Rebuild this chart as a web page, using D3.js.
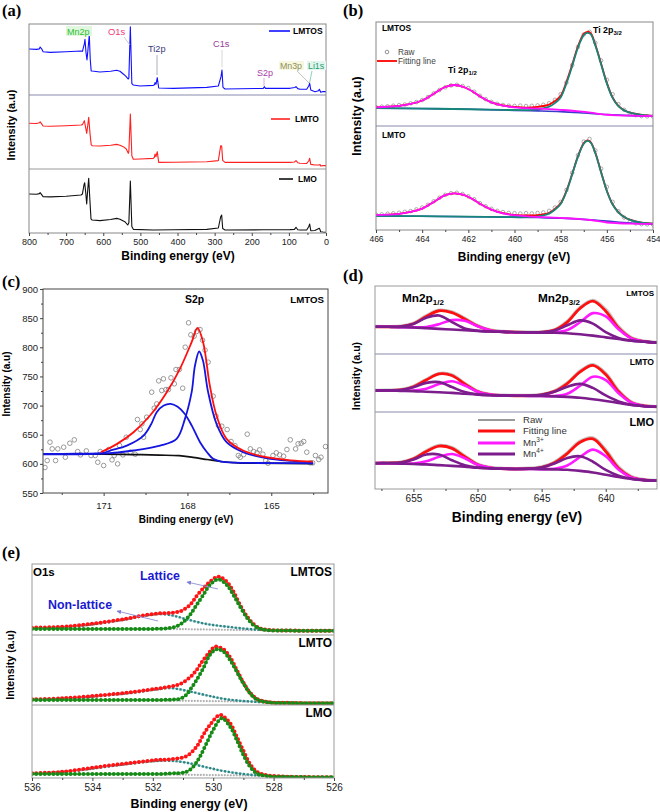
<!DOCTYPE html>
<html><head><meta charset="utf-8">
<script src="https://cdn.jsdelivr.net/npm/d3@7"></script>
<style>body{margin:0;background:#fff}</style>
</head><body><script>
// ================= DATA =================
// (a) survey spectra  [binding energy (eV), intensity (a.u.)]
const surveyTicks=[800,700,600,500,400,300,200,100,0];
const surveyMinor=[750,650,550,450,350,250,150,50];
const surveyLMTOS=[[800,64.8],[780,64.3],[772,65],[770,67.6],[766,65],[762,61],[743,60.1],[700,61],[660,62],[656,61.5],[651,72],[649.2,78.4],[646.5,60],[643.8,49.3],[641,65],[637.6,84.5],[635,50],[632.5,34],[630,33.8],[609,32.4],[580,33.5],[564,34.8],[555,33.5],[546,29.6],[540,27],[532.5,22.5],[531,24],[527,96],[523,16],[519,14.1],[501,12.7],[465,13.6],[462,14.5],[460.6,17.4],[458,15],[454.5,24.4],[450.7,9.9],[411,9.4],[321,10.8],[290,12.7],[282.8,25.8],[280.2,35.2],[277.5,10.8],[272,8.5],[169,9.4],[166,11.7],[163,9.4],[97,9.4],[84,10.5],[80.8,11.7],[76,9],[70,8],[52,8],[46.6,12.7],[44,16.4],[41,7],[29.6,4.7],[20,6],[18,8],[16,6],[14.3,3.8],[8,5],[0,4.7]];
const surveyLMTO=[[800,61.8],[780,61.5],[772,62.5],[770,63.9],[766,61],[762,58.1],[743,57.8],[700,58.5],[660,59.5],[656,60],[653,63],[651,65.3],[647,55],[644.6,48.2],[641.5,60],[639.2,69.8],[635.7,48.2],[632.5,33],[630,31.5],[609,31.1],[580,32],[564,33.3],[555,32.2],[546,30.2],[538,27],[532.5,21.2],[531,24],[527,74.3],[523,18],[519,13.1],[501,13.5],[465,14.4],[462,16],[460.6,20.3],[458,16.7],[454.5,23.4],[450.7,9],[411,9.2],[321,9.8],[290,11.3],[283.6,31.5],[281,31],[278.3,11.7],[272,9],[169,9],[97,9],[85,9.5],[80.8,11.3],[76,8.5],[70,7.7],[52,7.5],[46.6,10.8],[44,14.4],[41,6.3],[30,5.5],[18,5.4],[16,6],[14.3,4.1],[8,4.5],[0,4.5]];
const surveyLMO=[[800,60.9],[780,60.5],[772,61.5],[770,63],[766,60],[762,56.8],[743,56.5],[700,57.5],[660,59.4],[656,61],[652,75],[650,78.6],[647,62],[644.6,45.3],[641.5,70],[639.2,85.5],[636,51.6],[633,22],[630,20.3],[609,19.3],[580,21],[564,22.9],[555,21.5],[542,17.7],[534,12.5],[531,16],[527,81.3],[523,10],[519,5.7],[465,4.7],[411,5],[321,5.7],[290,7.8],[283.6,25.5],[281,28.1],[278.3,7],[272,4.7],[169,5],[97,5.2],[85,5.7],[80.8,8.9],[76,5],[70,4.7],[52,4.7],[46.6,9.9],[44,14.1],[41,3.6],[30,4],[18,7.3],[16,5],[14.3,2],[8,1.5],[0,1]];

// (b) Ti 2p
const tiTicks=[466,464,462,460,458,456,454];
const tiMinor=[465,463,461,459,457,455];
const tiRawE=[466,465.75,465.5,465.25,465,464.75,464.5,464.25,464,463.75,463.5,463.25,463,462.75,462.5,462.25,462,461.75,461.5,461.25,461,460.75,460.5,460.25,460,459.75,459.5,459.25,459,458.75,458.5,458.25,458,457.75,457.5,457.25,457,456.75,456.5,456.25,456,455.75,455.5,455.25,455,454.75,454.5,454.25,454];
const tiRawLMTOS=[18.2,18.6,18.9,19.5,20.1,20.6,21.8,23,25,27.8,31.4,34.6,37.2,39,39.6,38.4,36.5,33,29,25.8,23.2,21.3,20.2,19.5,19.3,19.6,19.2,19.4,19.8,20.4,21.9,25.2,30.6,41.8,58.5,76,88,90.5,80,63,44.5,30.5,21,15.6,12,10.4,9.6,9.3,9.2];
const tiRawLMTO=[14.8,15,15.6,16,16.6,17.5,18.2,19.8,21.6,24.2,27.6,31,33.8,35.4,35.8,34.6,32.4,29.6,25.8,22.8,20.4,18.4,17.2,16.4,16.2,15.8,16.2,15.9,16.4,16.8,18.4,21.6,27,38.5,55,72,85,87.5,76.5,59,41.5,27,18,12,8.5,6.4,5.6,5.4,5.2];
const tiBgLMTOS=[[466,17],[463,16.5],[460,15],[459,14.5],[458,13.8],[457,12.5],[456,11],[455,10],[454,9.6]];
const tiP12LMTOS=[[466,18],[465.5,18.5],[465,19.4],[464.5,21.2],[464,24.5],[463.5,31],[463,37.5],[462.6,39.4],[462.2,37.5],[461.8,33],[461.4,27.2],[461,22.8],[460.5,19.6],[460,18],[459.3,17],[458.5,16.2],[457.9,15.4],[457.2,14],[456.7,12.8],[456,10.8],[455.5,10.2],[455,9.9],[454,9.6]];
const tiP32LMTOS=[[466,17.2],[464,16.8],[462,16.1],[460.5,15.5],[459.5,15.3],[459,16],[458.5,18.6],[458.25,22],[458,27.5],[457.75,41],[457.5,57.7],[457.25,75.5],[457,87.4],[456.85,89.6],[456.7,88.4],[456.5,77.5],[456.25,59.5],[456,41],[455.75,27],[455.5,19],[455.25,15],[455,12.8],[454.5,10.8],[454,9.8]];
const tiFitLMTOS=[[466,18],[465,19.4],[464.5,21.2],[464,24.5],[463.5,31],[463,37.5],[462.6,39.4],[462.2,37.5],[461.8,33],[461.4,27.2],[461,22.8],[460.5,19.8],[460,18.3],[459.5,17.6],[459,18.4],[458.5,20.6],[458.25,24],[458,29],[457.75,42.5],[457.5,59],[457.25,76.7],[457,88.6],[456.85,90.6],[456.7,89.3],[456.5,78.4],[456.25,60.2],[456,41.6],[455.75,27.4],[455.5,19.4],[455.25,15.2],[455,12.9],[454.5,10.8],[454,9.8]];
const tiBgLMTO=[[466,13.5],[463,13],[460,12.4],[459,12],[458,11.4],[457,10.2],[456,8.5],[455,6.8],[454,5.8]];
const tiP12LMTO=[[466,14.4],[465.5,14.8],[465,15.6],[464.5,17.4],[464,20.5],[463.5,27],[463,33.5],[462.6,35.3],[462.2,33.8],[461.8,29.5],[461.4,24],[461,19.6],[460.5,16],[460,14.2],[459.3,12.8],[458.5,12.2],[457.9,11.5],[457.2,10.6],[456.7,9.6],[456,7.2],[455.5,6.5],[455,6.1],[454,5.8]];
const tiP32LMTO=[[466,13.6],[464,13.3],[462,12.9],[460.5,12.4],[459.5,12.3],[459,13],[458.5,15.8],[458.25,19.5],[458,25],[457.75,37],[457.5,53.5],[457.25,70.5],[457,83],[456.85,85.6],[456.7,84],[456.5,74],[456.25,55.5],[456,37.5],[455.75,24.5],[455.5,17],[455.25,12.5],[455,9.8],[454.5,7],[454,6]];
const tiFitLMTO=[[466,14.4],[465,15.6],[464.5,17.4],[464,20.5],[463.5,27],[463,33.5],[462.6,35.3],[462.2,33.8],[461.8,29.5],[461.4,24],[461,19.6],[460.5,16.2],[460,14.6],[459.5,14],[459,14.3],[458.5,16.6],[458.25,20.2],[458,25.6],[457.75,37.6],[457.5,54],[457.25,71],[457,83.5],[456.85,86.2],[456.7,84.5],[456.5,74.4],[456.25,55.8],[456,37.7],[455.75,24.7],[455.5,17.2],[455.25,12.6],[455,9.9],[454.5,7],[454,6]];

// (c) S 2p
const s2pXTicks=[171,168,165];
const s2pXMinor=[172.5,169.5,166.5,163.5];
const s2pYTicks=[550,600,650,700,750,800,850,900];
const s2pYMinor=[575,625,675,725,775,825,875];
const s2pRaw=[[173.10,593.7],[173.02,605.7],[172.92,637.2],[172.84,625.7],[172.72,605.7],[172.64,625.7],[172.43,628.6],[172.37,611.4],[172.21,635.4],[172.05,641.2],[171.93,621.1],[171.83,615.4],[171.62,622.3],[171.45,614.3],[171.30,614.3],[171.21,602.8],[171.12,621.1],[171.00,597.1],[170.82,624.6],[170.70,606.8],[170.62,614.3],[170.50,600.0],[170.43,631.4],[170.31,615.4],[170.19,645.7],[170.05,620.0],[169.87,616.6],[169.79,676.1],[169.69,658.9],[169.63,668.6],[169.57,645.7],[169.46,680.1],[169.28,723.0],[169.19,695.5],[169.10,702.9],[169.03,742.4],[168.92,725.8],[168.86,745.9],[168.77,727.5],[168.68,727.5],[168.59,747.6],[168.47,737.3],[168.41,761.9],[168.29,761.9],[168.17,729.8],[168.08,800.2],[167.96,842.0],[167.88,821.4],[167.76,819.1],[167.67,827.1],[167.55,830.5],[167.46,812.2],[167.37,795.1],[167.26,774.5],[167.08,716.1],[166.98,681.8],[166.89,665.8],[166.77,664.6],[166.58,658.9],[166.44,638.3],[166.30,631.4],[166.18,614.3],[166.11,611.4],[165.99,615.9],[165.86,650.9],[165.75,625.7],[165.63,621.1],[165.51,618.9],[165.42,624.0],[165.30,616.6],[165.20,605.7],[165.12,601.1],[164.94,614.3],[164.82,618.9],[164.70,615.4],[164.56,613.1],[164.44,624.6],[164.32,641.2],[164.13,625.7],[164.04,634.4],[163.93,635.4],[163.84,638.3],[163.73,620.0],[163.61,601.7],[163.52,601.7],[163.42,614.3],[163.30,607.4],[163.22,611.4],[163.06,629.7]];
const s2pBg=[[173.2,616.5],[171,616.5],[170,616],[169,615],[168.3,614],[167.8,611],[167.3,607.5],[166.8,604],[166.2,601.8],[165.5,601],[163.5,600.5]];
const s2pComp1=[[173.2,617],[172,617.5],[171,619],[170.76,622.9],[170.17,631.4],[169.57,648.6],[169.3,668],[169.1,688.6],[168.85,700],[168.6,702.9],[168.35,698],[168.1,686],[167.85,666],[167.55,637.2],[167.3,620],[167.08,608.6],[166.8,604],[166.3,602],[165.5,601.5],[163.5,601]];
const s2pComp2=[[173.2,616.5],[171,617.5],[169.93,622.9],[168.98,631.4],[168.39,642.9],[168.09,677.2],[167.85,723],[167.73,768.7],[167.58,792.8],[167.45,778],[167.26,723],[166.96,668.6],[166.6,637.2],[166.01,620],[165.18,609.7],[164.3,605],[163.52,602.8]];
const s2pFit=[[171.1,620],[170.52,634.3],[169.93,654.3],[169.34,682.9],[168.74,723],[168.27,763],[167.85,808.8],[167.64,833.4],[167.44,808.8],[167.2,734.4],[166.96,682.9],[166.6,642.9],[166.01,622.9],[165.18,611.4],[164.3,606],[163.52,604]];

// (d) Mn 2p
const mnTicks=[655,650,645,640];
const mnMinor=[657.5,652.5,647.5,642.5,637.5];
const mnE=[658,657,656,655,654,653,652,651,650,649,648,647,646,645,644,643,642,641,640,639,638,637,636];
const mnBgLMTOS=[40,40,39.5,39,38,37,36,35,34,33,32.5,32,31.8,31.5,31.2,30.5,29,27,24.5,22,19.5,18,16.6];
const mnMn4LMTOS=[40,40,40.3,44.2,53.4,56.7,47,37.7,34.3,33,32.5,32,31.8,32,34.5,42.2,49.4,44.7,32.2,23.7,19.7,18,16.6];
const mnMn3LMTOS=[40,40,39.5,39.2,39.7,43.9,49.8,48.8,40.9,34.7,32.7,32,31.8,31.5,31.8,35.2,46.7,60.1,55.3,36.4,22.9,18.4,16.6];
const mnFitLMTOS=[40,40,40.3,44.4,55.1,63.6,60.8,51.5,41.2,34.7,32.7,32,31.8,32,35.1,46.9,67.1,77.8,63,38.1,23.1,18.4,16.6];
const mnRawLMTOS=[40.5,40.3,40.9,45.2,56.3,64.5,62,52.6,42,35.4,33.2,32.6,32.3,32.6,35.8,48.2,68.4,79,65.5,40.2,24.2,19,17];
const mnBgLMTO=[37,37,36.5,36,35,34,33,31.5,30,29,28.5,28,27.8,27.5,27,26,24.5,22,19,15.5,12,10,9];
const mnMn4LMTO=[37,37.2,37.9,42.7,50.2,51.5,43,34.4,30.4,29,28.5,28,28.1,29.6,34.8,43.6,48.5,41.5,28.5,18.3,12.5,10,9];
const mnMn3LMTO=[37,37,36.6,36.9,40,48.1,53,45.6,35,29.9,28.5,28,27.8,27.5,27.7,31.5,45.2,60.8,55,32.4,15.9,10.5,9];
const mnFitLMTO=[37,37.2,38,43.6,55.2,65.6,63,48.5,35.4,29.9,28.5,28,28.1,29.6,35.5,49.1,69.2,80.3,64.5,35.2,16.4,10.5,9];
const mnRawLMTO=[37.4,37.6,38.6,44.5,56.3,66.4,64,49.6,36.2,30.6,29.1,28.6,28.7,30.3,36.4,50.3,70.4,81.6,66.5,37,17.6,11.2,9.5];
const mnBgLMO=[33.5,33.5,33,32.5,32,31,30,29,27.5,26.8,26.3,26,26,25.8,25.5,25,23.5,21.5,18.5,15.5,13,11.5,10.8];
const mnMn4LMO=[33.5,33.7,34.4,38.4,44.8,44.7,37.3,31,27.8,26.8,26.3,26,26.4,28,33.1,40.4,42.5,35.4,24.7,17.1,13.3,11.5,10.8];
const mnMn3LMO=[33.5,33.5,33,33.2,35.9,42,45.5,40,31.4,27.5,26.3,26,26,25.8,26.4,30.6,41.7,51.1,42.5,25.3,15,11.7,10.8];
const mnFitLMO=[33.5,33.7,34.4,39.1,48.7,55.7,52.8,42,31.7,27.5,26.3,26,26.4,28,34,46,60.7,65,48.7,26.9,15.3,11.7,10.8];
const mnRawLMO=[34,34.2,35,39.8,49.6,56.6,53.8,43,32.5,28.2,26.9,26.6,27,28.7,35,47.2,62,66.4,50.8,28.8,16.4,12.3,11.2];

// (e) O 1s
const o1sTicks=[536,534,532,530,528,526];
const o1sMinor=[535,533,531,529,527];
const o1sFitLMTOS=[[536,10.3],[535,11.5],[534.5,13.5],[533.75,17.3],[532.87,23],[532.3,27.7],[531.76,30.5],[531.32,31.4],[531.04,34.3],[530.77,42.3],[530.55,54.9],[530.33,65.7],[530.11,75],[529.83,82.1],[529.55,75],[529.33,61],[529.11,42.3],[528.89,26.8],[528.67,15.5],[528.45,9.4],[528.2,7.2],[527.5,6.3],[526,6]];
const o1sLatLMTOS=[[536,8.5],[533,8.5],[531.8,8.8],[531.32,10.8],[531.04,16.4],[530.77,28.2],[530.55,42.3],[530.33,56.3],[530.11,70.4],[529.83,78.4],[529.55,70.4],[529.33,56.3],[529.11,39.9],[528.89,24.9],[528.67,14.1],[528.45,8.9],[528.2,6.8],[527.5,6.2],[526,6]];
const o1sNonLMTOS=[[536,9.4],[534.85,10.8],[533.75,16.4],[532.87,22.1],[532.3,26.8],[531.76,29.6],[531.32,27.2],[530.88,22.1],[530.22,15.5],[529.55,11.7],[528.67,8],[527.68,6.1],[526,6]];
const o1sBgLMTOS=[[532,8.6],[531,8.2],[530,7.6],[529,7],[528,6.5]];
const o1sFitLMTO=[[536,8.1],[535,9.5],[533.75,13.8],[532.65,18.6],[531.87,23.3],[531.43,26.2],[531.1,30],[530.77,39.5],[530.55,50],[530.33,64.3],[530.11,76.2],[529.94,83.3],[529.66,79.5],[529.44,68.1],[529.22,50],[529,31.9],[528.78,17.6],[528.56,9],[528.2,4.3],[527.5,3],[526,2.4]];
const o1sLatLMTO=[[536,7.1],[533,7.2],[531.5,7.5],[531.1,9],[530.9,14],[530.77,21.4],[530.55,35.7],[530.33,52.4],[530.11,71.4],[529.89,79.5],[529.66,76.2],[529.44,64.3],[529.22,47.6],[529,31],[528.78,16.7],[528.56,8.1],[528.2,3.8],[527.5,2.8],[526,2.4]];
const o1sNonLMTO=[[536,8.1],[534.85,9],[533.75,12.9],[532.65,17.6],[531.87,22.4],[531.43,24.3],[530.88,20.4],[530.22,13.8],[529.55,8.1],[528.67,4.8],[527.68,2.9],[526,2.4]];
const o1sBgLMTO=[[532,6.5],[531,6],[530,5.5],[529,5],[528,4.5]];
const o1sFitLMO=[[536,6.4],[535,8.5],[533.75,15.5],[532.65,21],[531.87,24.7],[531.43,25.6],[530.88,30.1],[530.55,42.9],[530.33,58.9],[530.11,72.6],[529.77,86.3],[529.44,74.9],[529.22,56.6],[529,37.4],[528.78,19.2],[528.56,8.7],[528.2,3.7],[527.5,1.8],[526,1]];
const o1sLatLMO=[[536,5.5],[533,5.5],[531.5,6],[530.88,8.7],[530.66,15.5],[530.44,29.2],[530.22,47.5],[530,65.8],[529.72,81.8],[529.44,70.3],[529.22,52.1],[529,31.5],[528.78,15.5],[528.56,6.4],[528.2,2.7],[527.5,1.5],[526,1]];
const o1sNonLMO=[[536,6.4],[534.85,8.7],[533.75,14.2],[532.65,20.1],[531.87,23.3],[531.43,23.7],[530.88,21],[530.22,14.6],[529.55,8.7],[528.67,4.1],[527.68,1.8],[526,1]];
const o1sBgLMO=[[532,5],[531,4.5],[530,4],[529,3.5],[528,3]];

// ================= DRAWING =================
const FONT="'Liberation Sans', Arial, sans-serif";
const SERIF="'Liberation Serif', 'Times New Roman', serif";
const svg=d3.select("body").append("svg").attr("width",660).attr("height",812).style("font-family",FONT);
let cid=0;
function clipRect(x0,y0,x1,y1){const id="clip"+(cid++);svg.append("clipPath").attr("id",id).append("rect").attr("x",x0).attr("y",y0).attr("width",x1-x0).attr("height",y1-y0);return `url(#${id})`;}
function label(x,y,s,o={}){
  const t=svg.append("text").attr("x",x).attr("y",y).attr("font-size",o.fs||10).attr("fill",o.fill||"#000").text(s);
  if(o.bold)t.attr("font-weight","bold");
  if(o.anchor)t.attr("text-anchor",o.anchor);
  if(o.rot)t.attr("transform",`rotate(-90 ${x} ${y})`);
  if(o.family)t.attr("font-family",o.family);
  return t;
}
function subLabel(x,y,main,sub,fs,subfs,dy,o={}){
  const t=label(x,y,main,Object.assign({fs:fs,bold:true},o));
  t.append("tspan").attr("font-size",subfs).attr("dy",dy).text(sub);
  return t;
}
function xAxis(xs,y,major,minor,fs,pad){
  const g=svg.append("g").attr("transform",`translate(0,${y})`);
  g.call(d3.axisBottom(xs).tickValues(major).tickSize(3).tickSizeOuter(0).tickPadding(pad).tickFormat(d3.format("d")));
  g.select(".domain").remove();
  g.selectAll("line").attr("stroke","#444");
  g.selectAll("text").attr("font-size",fs).attr("fill","#222").attr("font-family",FONT);
  if(minor){const m=svg.append("g").attr("transform",`translate(0,${y})`);
    m.call(d3.axisBottom(xs).tickValues(minor).tickSize(2).tickSizeOuter(0).tickFormat(""));
    m.select(".domain").remove(); m.selectAll("line").attr("stroke","#444");}
}
function frame(x0,y0,x1,y1,col,w){svg.append("rect").attr("x",x0).attr("y",y0).attr("width",x1-x0).attr("height",y1-y0).attr("fill","none").attr("stroke",col||"#888").attr("stroke-width",w||1);}
function hline(x0,x1,y,col,w){svg.append("line").attr("x1",x0).attr("x2",x1).attr("y1",y).attr("y2",y).attr("stroke",col).attr("stroke-width",w||1);}
function seg(x1,y1,x2,y2,col,w){svg.append("line").attr("x1",x1).attr("y1",y1).attr("x2",x2).attr("y2",y2).attr("stroke",col).attr("stroke-width",w||0.8);}
function curve(data,xs,ys,o){
  const p=svg.append("path").datum(data)
   .attr("d",d3.line().x(d=>xs(d[0])).y(d=>ys(d[1])).curve(o.curve||d3.curveLinear))
   .attr("fill","none").attr("stroke",o.color).attr("stroke-width",o.w||1)
   .attr("stroke-linejoin","round");
  if(o.clip)p.attr("clip-path",o.clip);
  if(o.dash)p.attr("stroke-dasharray",o.dash);
  if(o.cap)p.attr("stroke-linecap",o.cap);
  return p;
}
const zip=(xsArr,ysArr)=>xsArr.map((e,i)=>[e,ysArr[i]]);
const CR=d3.curveCatmullRom.alpha(0.5);

// ---------- (a) survey ----------
{
  const L=29,R=326,T=24,B=233;
  const xs=d3.scaleLinear().domain([800,0]).range([L,R]);
  const subs=[{t:24,b:95,d:surveyLMTOS,c:"#1010ff"},{t:95,b:169,d:surveyLMTO,c:"#ff2020"},{t:169,b:233,d:surveyLMO,c:"#111"}];
  subs.forEach(s=>{
    const ys=d3.scaleLinear().domain([0,100]).range([s.b,s.t]);
    curve(s.d,xs,ys,{color:s.c,w:1.1,clip:clipRect(L,s.t,R,s.b)});
  });
  hline(L,R,95,"#8a8ab0",1); hline(L,R,169,"#999",1);
  frame(L,T,R,B,"#888");
  xAxis(xs,B,surveyTicks,surveyMinor,9,3);
  label(2,16,"(a)",{fs:16.5,bold:true,family:SERIF});
  label(15,125,"Intensity (a.u)",{fs:10.9,bold:true,anchor:"middle",rot:true});
  label(178,260,"Binding energy (eV)",{fs:12,bold:true,anchor:"middle"});
  // legends
  seg(269,31,290,31,"#1010ff",1.6); label(293,34,"LMTOS",{fs:8.5,bold:true});
  seg(271,119,290,119,"#ff2020",1.6); label(295,122,"LMTO",{fs:8.5,bold:true});
  seg(279,179,293,179,"#111",1.6); label(298,182,"LMO",{fs:8.5,bold:true});
  // peak annotations
  svg.append("rect").attr("x",66).attr("y",26).attr("width",26).attr("height",10).attr("fill","#dff7df");
  label(67,35,"Mn2p",{fs:9,fill:"#2fbf2f"});
  label(108,35,"O1s",{fs:9.4,fill:"#ee3a7a"});
  seg(124,37,130,45,"#bbb",0.8);
  label(148,52,"Ti2p",{fs:9.2,fill:"#3a3a7a"});
  seg(157,55,157,75,"#99a",0.8);
  label(213,47,"C1s",{fs:9.2,fill:"#9a3a9a"});
  seg(222,50,222,67,"#ccc",0.8);
  label(257,76,"S2p",{fs:9,fill:"#aa40aa"});
  seg(264,78,264,86,"#c9c",0.8);
  svg.append("rect").attr("x",279).attr("y",61).attr("width",25).attr("height",9).attr("fill","#f7f7df");
  label(280,68.5,"Mn3p",{fs:8.8,fill:"#8f8f60"});
  svg.append("rect").attr("x",307).attr("y",61).attr("width",19).attr("height",9).attr("fill","#e3f5ec");
  label(308,68.5,"Li1s",{fs:8.8,fill:"#22a070"});
  seg(297,71,309,83,"#aa9",0.7);
  seg(312,71,309.5,83,"#6b9",0.7);
}

// ---------- (b) Ti 2p ----------
{
  const L=376,R=653,T=22,B=230;
  const xs=d3.scaleLinear().domain([466,454]).range([L,R]);
  const subs=[{t:22,b:126,raw:tiRawLMTOS,fit:tiFitLMTOS,bg:tiBgLMTOS,p12:tiP12LMTOS,p32:tiP32LMTOS},
              {t:126,b:230,raw:tiRawLMTO,fit:tiFitLMTO,bg:tiBgLMTO,p12:tiP12LMTO,p32:tiP32LMTO}];
  subs.forEach(s=>{
    const ys=d3.scaleLinear().domain([0,100]).range([s.b,s.t]);
    const cp=clipRect(L,s.t,R,s.b);
    svg.append("g").attr("clip-path",cp).selectAll("circle").data(zip(tiRawE,s.raw)).join("circle")
      .attr("cx",d=>xs(d[0])).attr("cy",d=>ys(d[1])).attr("r",1.8).attr("fill","none").attr("stroke","#8a8a8a").attr("stroke-width",0.7);
    curve(s.fit,xs,ys,{color:"#ff0000",w:1.8,curve:CR,clip:cp});
    curve(s.bg,xs,ys,{color:"#3a3acc",w:1.6,curve:CR,clip:cp});
    curve(s.p32,xs,ys,{color:"#16857a",w:1.8,curve:CR,clip:cp});
    curve(s.p12,xs,ys,{color:"#ff10ff",w:1.8,curve:CR,clip:cp});
  });
  hline(L,R,126,"#8a8ab0",1.2);
  frame(L,T,R,B,"#888");
  xAxis(xs,B,tiTicks,tiMinor,8.5,3);
  label(343,16,"(b)",{fs:16.5,bold:true,family:SERIF});
  label(361,116,"Intensity (a.u)",{fs:12.2,bold:true,anchor:"middle",rot:true});
  label(514,261,"Binding energy (eV)",{fs:11.9,bold:true,anchor:"middle"});
  label(382,31,"LMTOS",{fs:8.4,bold:true});
  label(382,138,"LMTO",{fs:8.4,bold:true});
  subLabel(593,33,"Ti 2p","3/2",8.8,6,2);
  subLabel(448,73,"Ti 2p","1/2",8.8,6,2);
  svg.append("circle").attr("cx",387).attr("cy",52).attr("r",1.8).attr("fill","none").attr("stroke","#777").attr("stroke-width",0.8);
  label(398,55,"Raw",{fs:8.3,fill:"#444"});
  seg(377,61,397,61,"#ff0000",1.8);
  label(398,64,"Fitting line",{fs:8.3,fill:"#444"});
}

// ---------- (c) S 2p ----------
{
  const L=43,R=328,T=289,B=493;
  const xs=d3.scaleLinear().domain([173.17,162.97]).range([L,R]);
  const ys=d3.scaleLinear().domain([550,900]).range([B,T]);
  const cp=clipRect(L,T,R,B);
  svg.append("g").attr("clip-path",cp).selectAll("circle").data(s2pRaw).join("circle")
    .attr("cx",d=>xs(d[0])).attr("cy",d=>ys(d[1])).attr("r",2.3).attr("fill","none").attr("stroke","#808080").attr("stroke-width",0.8);
  curve(s2pBg,xs,ys,{color:"#111",w:1.7,curve:CR,clip:cp});
  curve(s2pComp1,xs,ys,{color:"#1515e0",w:1.8,curve:CR,clip:cp});
  curve(s2pComp2,xs,ys,{color:"#1515e0",w:1.8,curve:CR,clip:cp});
  curve(s2pFit,xs,ys,{color:"#ff1010",w:1.8,curve:CR,clip:cp});
  frame(L,T,R,B,"#444");
  xAxis(xs,B,s2pXTicks,s2pXMinor,9.5,6);
  const g=svg.append("g").attr("transform",`translate(${L},0)`);
  g.call(d3.axisLeft(ys).tickValues(s2pYTicks).tickSize(3).tickSizeOuter(0).tickPadding(2));
  g.select(".domain").remove(); g.selectAll("line").attr("stroke","#444");
  g.selectAll("text").attr("font-size",9.5).attr("fill","#222").attr("font-family",FONT);
  const gm=svg.append("g").attr("transform",`translate(${L},0)`);
  gm.call(d3.axisLeft(ys).tickValues(s2pYMinor).tickSize(2).tickSizeOuter(0).tickFormat(""));
  gm.select(".domain").remove(); gm.selectAll("line").attr("stroke","#444");
  label(2,287,"(c)",{fs:16.5,bold:true,family:SERIF});
  label(10,384,"Intensity (a.u)",{fs:10,bold:true,anchor:"middle",rot:true});
  label(186,523,"Binding energy (eV)",{fs:10,bold:true,anchor:"middle"});
  label(185,303,"S2p",{fs:10.4,bold:true});
  label(324,303,"LMTOS",{fs:9.7,bold:true,anchor:"end"});
}

// ---------- (d) Mn 2p ----------
{
  const L=375,R=657,T=286,B=489;
  const xs=d3.scaleLinear().domain([658,636]).range([L,R]);
  const subs=[{t:286,b:354,bg:mnBgLMTOS,m4:mnMn4LMTOS,m3:mnMn3LMTOS,fit:mnFitLMTOS,raw:mnRawLMTOS},
              {t:354,b:412,bg:mnBgLMTO,m4:mnMn4LMTO,m3:mnMn3LMTO,fit:mnFitLMTO,raw:mnRawLMTO},
              {t:412,b:489,bg:mnBgLMO,m4:mnMn4LMO,m3:mnMn3LMO,fit:mnFitLMO,raw:mnRawLMO}];
  subs.forEach(s=>{
    const ys=d3.scaleLinear().domain([0,100]).range([s.b,s.t]);
    const cp=clipRect(L,s.t,R,s.b);
    curve(zip(mnE,s.raw),xs,ys,{color:"#c4c4c4",w:3.2,curve:CR,clip:cp});
    curve(zip(mnE,s.fit),xs,ys,{color:"#ff1010",w:2.8,curve:CR,clip:cp});
    curve(zip(mnE,s.m3),xs,ys,{color:"#ff1aff",w:2.6,curve:CR,clip:cp});
    curve(zip(mnE,s.bg),xs,ys,{color:"#7d1d8d",w:2.6,curve:CR,clip:cp});
    curve(zip(mnE,s.m4),xs,ys,{color:"#7d1d8d",w:2.6,curve:CR,clip:cp});
  });
  hline(L,R,354,"#8a8ab0",1.2); hline(L,R,412,"#8a8ab0",1.2);
  frame(L,T,R,B,"#999");
  xAxis(xs,B,mnTicks,mnMinor,10,3);
  label(343,281,"(d)",{fs:16.5,bold:true,family:SERIF});
  label(360,376,"Intensity (a.u)",{fs:10.5,bold:true,anchor:"middle",rot:true});
  label(517,522,"Binding energy (eV)",{fs:13.8,bold:true,anchor:"middle"});
  subLabel(402,302,"Mn2p","1/2",11.8,8,3);
  subLabel(538,302,"Mn2p","3/2",11.8,8,3);
  label(654,296,"LMTOS",{fs:8,bold:true,anchor:"end"});
  label(654,365,"LMTO",{fs:8.6,bold:true,anchor:"end"});
  label(654,426,"LMO",{fs:11,bold:true,anchor:"end"});
  const leg=[["Raw","#777",1.4,420],["Fitting line","#ff1010",3,431],["Mn","#ff1aff",3,443,"3+"],["Mn","#7d1d8d",3,454,"4+"]];
  leg.forEach(l=>{
    seg(478,l[3],515,l[3],l[1],l[2]);
    const t=label(523,l[3]+3.4,l[0],{fs:9.6,fill:"#333"});
    if(l[4]) t.append("tspan").attr("font-size",6.5).attr("dy",-4).text(l[4]);
  });
}

// ---------- (e) O 1s ----------
{
  const L=32,R=334,T=564,B=778;
  const xs=d3.scaleLinear().domain([536,526]).range([L,R]);
  const subs=[{t:564,b:635,fit:o1sFitLMTOS,lat:o1sLatLMTOS,non:o1sNonLMTOS,bg:o1sBgLMTOS},
              {t:635,b:705,fit:o1sFitLMTO,lat:o1sLatLMTO,non:o1sNonLMTO,bg:o1sBgLMTO},
              {t:705,b:778,fit:o1sFitLMO,lat:o1sLatLMO,non:o1sNonLMO,bg:o1sBgLMO}];
  subs.forEach(s=>{
    const ys=d3.scaleLinear().domain([0,100]).range([s.b,s.t]);
    const cp=clipRect(L,s.t,R,s.b);
    curve(s.bg,xs,ys,{color:"#b0b0b0",w:2.2,curve:CR,clip:cp,dash:"0,3",cap:"round"});
    curve(s.non,xs,ys,{color:"#8fc4c4",w:1,curve:CR,clip:cp});
    curve(s.non,xs,ys,{color:"#2a8585",w:2.4,curve:CR,clip:cp,dash:"2.2,1.6"});
    curve(s.fit,xs,ys,{color:"#ff5a7a",w:1.3,curve:CR,clip:cp});
    curve(s.fit,xs,ys,{color:"#ff1414",w:4,curve:CR,clip:cp,dash:"0,4.3",cap:"round"});
    curve(s.lat,xs,ys,{color:"#2b9a2b",w:1.3,curve:CR,clip:cp});
    curve(s.lat,xs,ys,{color:"#168a16",w:4,curve:CR,clip:cp,dash:"0,4.3",cap:"round"});
  });
  hline(L,R,635,"#999",1); hline(L,R,705,"#999",1);
  frame(L,T,R,B,"#999");
  xAxis(xs,B,o1sTicks,o1sMinor,10,3);
  label(2,558,"(e)",{fs:16.5,bold:true,family:SERIF});
  label(14,665,"Intensity (a.u)",{fs:10.7,bold:true,anchor:"middle",rot:true});
  label(189,808,"Binding energy (eV)",{fs:12.4,bold:true,anchor:"middle"});
  label(33,576,"O1s",{fs:11.5,bold:true});
  label(332,576,"LMTOS",{fs:11.9,bold:true,anchor:"end"});
  label(332,647,"LMTO",{fs:11.9,bold:true,anchor:"end"});
  label(332,717,"LMO",{fs:11.9,bold:true,anchor:"end"});
  label(140,580,"Lattice",{fs:12.4,bold:true,fill:"#1a1ad0"});
  label(48,609,"Non-lattice",{fs:12.4,bold:true,fill:"#1a1ad0"});
  const defs=svg.append("defs");
  defs.append("marker").attr("id","arr").attr("viewBox","0 0 10 10").attr("refX",9).attr("refY",5)
    .attr("markerWidth",5).attr("markerHeight",5).attr("orient","auto")
    .append("path").attr("d","M0,0 L10,5 L0,10 z").attr("fill","#7b7bd0");
  svg.append("line").attr("x1",218).attr("y1",589).attr("x2",187).attr("y2",582).attr("stroke","#8f8fd8").attr("stroke-width",0.9).attr("marker-end","url(#arr)");
  svg.append("line").attr("x1",158).attr("y1",621).attr("x2",117).attr("y2",611).attr("stroke","#8f8fd8").attr("stroke-width",0.9).attr("marker-end","url(#arr)");
}
</script></body></html>
